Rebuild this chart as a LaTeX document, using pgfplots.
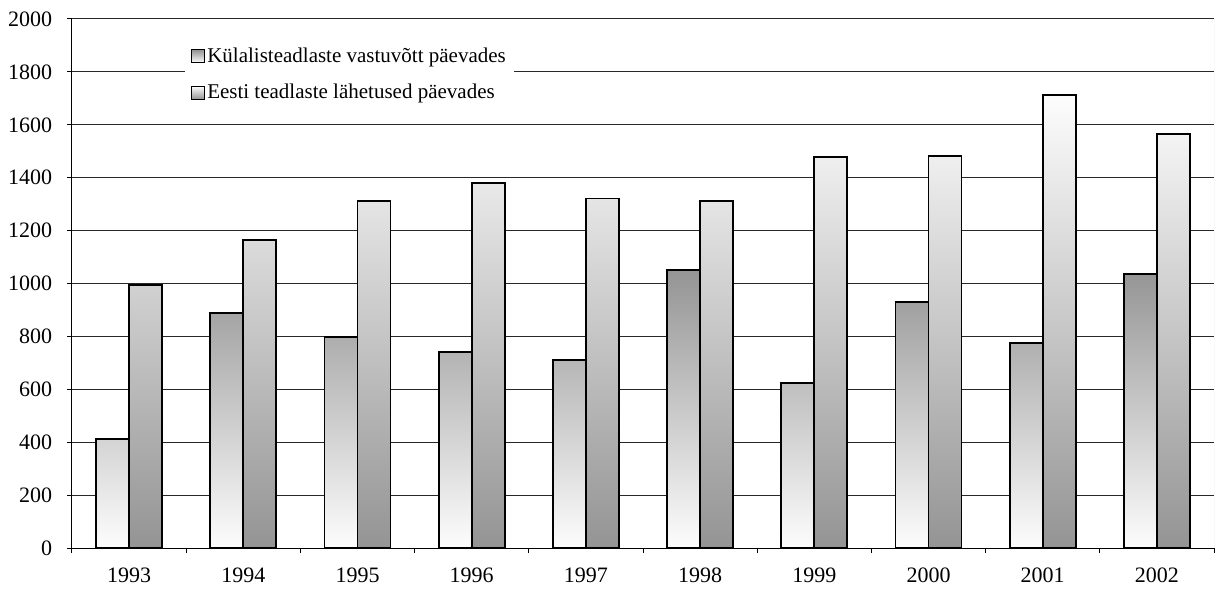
\documentclass[border=0pt]{standalone}
\usepackage{fontspec}
\setmainfont{Liberation Serif}
\usepackage{pgfplots}
\pgfplotsset{compat=1.18}
\definecolor{barDark}{RGB}{148,148,148}
\definecolor{barLight}{RGB}{253,253,253}
\definecolor{gridc}{RGB}{40,40,40}
\begin{document}
\begin{tikzpicture}
\begin{axis}[
  scale only axis, width=571pt, height=264.5pt,
  ymin=0, ymax=2000, ytick={0,200,...,2000},
  xmin=-0.5, xmax=9.5,
  xtick={0,...,9}, xticklabels={1993,1994,1995,1996,1997,1998,1999,2000,2001,2002},
  minor xtick={-0.5,0.5,...,9.5},
  ybar=0pt, bar width=16.5pt,
  axis x line*=bottom, axis y line*=left,
  axis line style={-, line width=0.5pt, black},
  tick align=outside,
  major tick length=2.6pt, minor tick length=2.6pt,
  major x tick style={draw=none},
  minor x tick style={black, line width=0.5pt},
  major y tick style={black, line width=0.5pt},
  ymajorgrids, major grid style={gridc, line width=0.5pt},
  tick label style={font=\fontsize{11}{13}\selectfont},
  /pgf/number format/assume math mode=true,
  /pgf/number format/1000 sep={},
  yticklabel style={xshift=-3.8pt},
  xticklabel style={yshift=-4pt},
  legend style={at={(rel axis cs:0.099,0.962)}, anchor=north west, draw=none, fill=white,
    font=\fontsize{10.5}{12.5}\selectfont, row sep=7.5pt, inner xsep=3pt, inner ysep=3pt,
    nodes={inner sep=1pt}},
  legend cell align=left,
  myleg/.style={legend image code/.code={\draw[##1, line width=0.5pt] (0pt,-3.2pt) rectangle (6.4pt,3.2pt);}},
]
\addplot[ybar, draw=black, line width=0.9pt, top color=barDark, bottom color=barLight, myleg]
  coordinates {(0,412) (1,887) (2,797) (3,741) (4,711) (5,1051) (6,623) (7,931) (8,774) (9,1036)};
\addlegendentry{Külalisteadlaste vastuvõtt päevades}
\addplot[ybar, draw=black, line width=0.9pt, top color=barLight, bottom color=barDark, myleg]
  coordinates {(0,995) (1,1164) (2,1313) (3,1379) (4,1321) (5,1313) (6,1478) (7,1483) (8,1713) (9,1564)};
\addlegendentry{Eesti teadlaste lähetused päevades}
\draw[black!20, line width=0.5pt] (rel axis cs:1,0) -- (rel axis cs:1,1);
\coordinate (SW) at (rel axis cs:0,0);
\coordinate (NE) at (rel axis cs:1,1);
\end{axis}
\pgfresetboundingbox
\path[use as bounding box] ([xshift=-36pt,yshift=-21pt]SW) rectangle ([xshift=0.5pt,yshift=9.5pt]NE);
\end{tikzpicture}
\end{document}
